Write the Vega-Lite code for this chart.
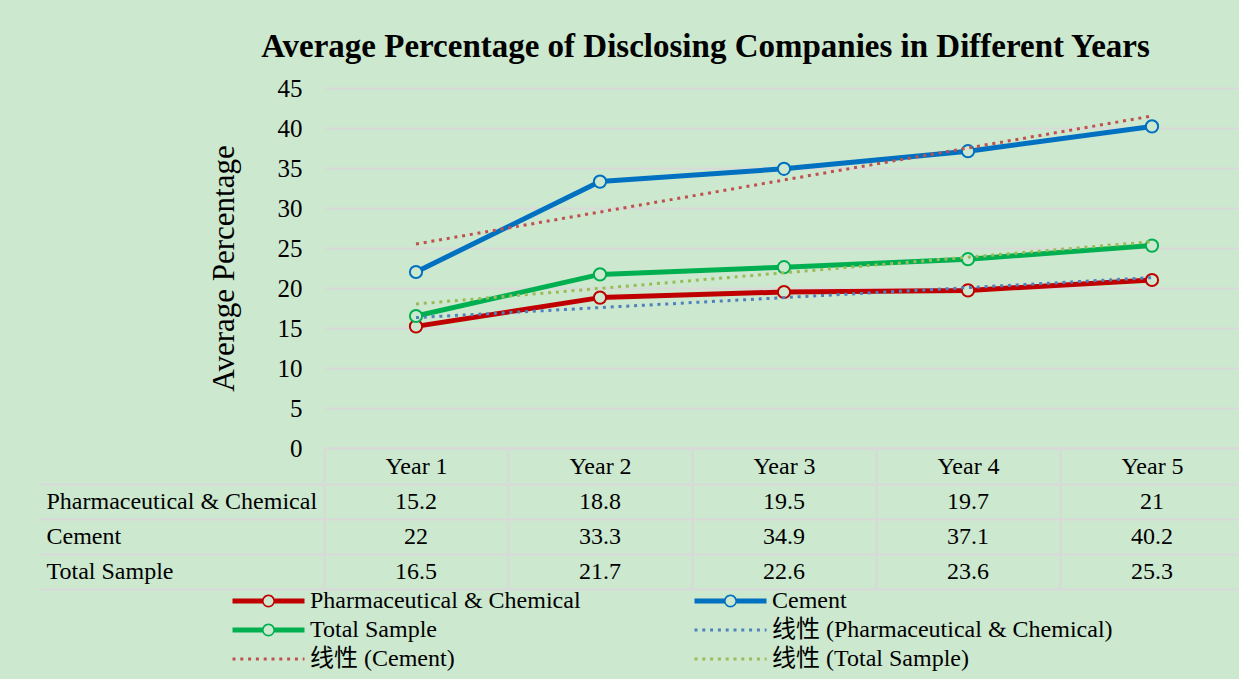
{
  "$schema": "https://vega.github.io/schema/vega-lite/v6.json",
  "background": "#CCE8CF",
  "padding": {"left": 38, "top": 31, "right": 0, "bottom": 12},
  "title": {
    "text": "Average Percentage of  Disclosing Companies in Different Years",
    "font": "Liberation Serif",
    "fontSize": 33,
    "fontWeight": "bold",
    "color": "#000000",
    "anchor": "middle",
    "dx": 64,
    "offset": 12
  },
  "datasets": {
    "main": [
      {"series": "Pharmaceutical & Chemical", "year": "Year 1", "value": 15.2},
      {"series": "Pharmaceutical & Chemical", "year": "Year 2", "value": 18.8},
      {"series": "Pharmaceutical & Chemical", "year": "Year 3", "value": 19.5},
      {"series": "Pharmaceutical & Chemical", "year": "Year 4", "value": 19.7},
      {"series": "Pharmaceutical & Chemical", "year": "Year 5", "value": 21},
      {"series": "Cement", "year": "Year 1", "value": 22},
      {"series": "Cement", "year": "Year 2", "value": 33.3},
      {"series": "Cement", "year": "Year 3", "value": 34.9},
      {"series": "Cement", "year": "Year 4", "value": 37.1},
      {"series": "Cement", "year": "Year 5", "value": 40.2},
      {"series": "Total Sample", "year": "Year 1", "value": 16.5},
      {"series": "Total Sample", "year": "Year 2", "value": 21.7},
      {"series": "Total Sample", "year": "Year 3", "value": 22.6},
      {"series": "Total Sample", "year": "Year 4", "value": 23.6},
      {"series": "Total Sample", "year": "Year 5", "value": 25.3}
    ],
    "trend": [
      {"series": "线性 (Pharmaceutical & Chemical)", "year": "Year 1", "value": 16.3},
      {"series": "线性 (Pharmaceutical & Chemical)", "year": "Year 5", "value": 21.3},
      {"series": "线性 (Cement)", "year": "Year 1", "value": 25.5},
      {"series": "线性 (Cement)", "year": "Year 5", "value": 41.5},
      {"series": "线性 (Total Sample)", "year": "Year 1", "value": 18.0},
      {"series": "线性 (Total Sample)", "year": "Year 5", "value": 25.8}
    ]
  },
  "spacing": -12,
  "vconcat": [
    {
      "width": 920,
      "height": 360,
      "encoding": {
        "x": {
          "field": "year", "type": "nominal", "bandPosition": 0.5,
          "scale": {"type": "band", "domain": ["Year 1", "Year 2", "Year 3", "Year 4", "Year 5"], "paddingInner": 0, "paddingOuter": 0},
          "axis": {
            "title": null, "orient": "bottom", "domain": true, "domainColor": "#D9D9D9", "domainWidth": 2,
            "ticks": true, "tickBand": "extent", "tickSize": 35, "tickColor": "#D9D9D9", "tickWidth": 2,
            "labelFont": "Liberation Serif", "labelFontSize": 24, "labelColor": "#000000",
            "labelPadding": -17, "labelBaseline": "middle", "labelAngle": 0, "grid": false
          }
        },
        "y": {
          "field": "value", "type": "quantitative",
          "scale": {"domain": [0, 45], "nice": false},
          "axis": {
            "title": "Average Percentage", "titleFont": "Liberation Serif", "titleFontSize": 31,
            "titleFontWeight": "normal", "titleColor": "#000000", "titlePadding": 37,
            "values": [0, 5, 10, 15, 20, 25, 30, 35, 40, 45], "tickCount": 10, "labelOverlap": false,
            "grid": true, "gridColor": "#D9D9D9", "gridWidth": 2,
            "domain": false, "ticks": false,
            "labelFont": "Liberation Serif", "labelFontSize": 25, "labelColor": "#000000", "labelPadding": 22
          }
        }
      },
      "layer": [
        {
          "data": {"name": "main"},
          "mark": {"type": "line", "strokeWidth": 5, "strokeJoin": "round"},
          "encoding": {
            "color": {
              "field": "series", "type": "nominal",
              "scale": {
                "domain": ["Pharmaceutical & Chemical", "Total Sample", "线性 (Cement)", "Cement", "线性 (Pharmaceutical & Chemical)", "线性 (Total Sample)"],
                "range": ["#C00000", "#00B050", "#C0504D", "#0070C0", "#4F81BD", "#9BBB59"]
              },
              "legend": {
                "title": null, "orient": "none", "legendX": -93, "legendY": 502,
                "columns": 2, "symbolSize": 5184, "clipHeight": 22,
                "labelFont": "Liberation Serif, Noto Sans CJK SC", "labelFontSize": 24, "labelColor": "#000000",
                "labelOffset": 4, "labelLimit": 600, "rowPadding": 5, "columnPadding": 112,
                "encode": {
                  "symbols": {
                    "update": {
                      "shape": {"signal": "indexof(datum.value, '线性') === 0 ? 'M-1,0H1' : 'M-1,-0.07H-0.17V0.07H-1Z M0.17,-0.07H1V0.07H0.17Z M0.18,0A0.18,0.18,0,1,1,-0.18,0A0.18,0.18,0,1,1,0.18,0Z M0.135,0A0.135,0.135,0,1,0,-0.135,0A0.135,0.135,0,1,0,0.135,0Z'"},
                      "fill": {"signal": "indexof(datum.value, '线性') === 0 ? 'transparent' : scale('color', datum.value)"},
                      "stroke": {"signal": "indexof(datum.value, '线性') === 0 ? scale('color', datum.value) : 'transparent'"},
                      "strokeOpacity": {"signal": "indexof(datum.value, '线性') === 0 ? 1 : 0"},
                      "strokeWidth": {"value": 3},
                      "strokeDash": {"value": [3, 4.8]},
                      "opacity": {"value": 1}
                    }
                  }
                }
              }
            }
          }
        },
        {
          "data": {"name": "main"},
          "mark": {"type": "point", "shape": "circle", "filled": false, "fill": "#CCE8CF", "fillOpacity": 1, "opacity": 1, "size": 150, "strokeWidth": 2},
          "encoding": {
            "color": {"field": "series", "type": "nominal"}
          }
        },
        {
          "data": {"name": "trend"},
          "mark": {"type": "line", "strokeWidth": 3, "strokeDash": [3, 4.8]},
          "encoding": {
            "color": {"field": "series", "type": "nominal"}
          }
        }
      ]
    },
    {
      "width": 920,
      "height": 105,
      "data": {"name": "main"},
      "mark": {"type": "text", "font": "Liberation Serif", "fontSize": 24, "color": "#000000", "baseline": "middle"},
      "encoding": {
        "x": {
          "field": "year", "type": "nominal",
          "scale": {"type": "band", "domain": ["Year 1", "Year 2", "Year 3", "Year 4", "Year 5"], "paddingInner": 0, "paddingOuter": 0},
          "axis": {"title": null, "labels": false, "ticks": false, "domain": false, "grid": true, "tickBand": "extent", "gridColor": "#D9D9D9", "gridWidth": 2}
        },
        "y": {
          "field": "series", "type": "nominal",
          "scale": {"type": "band", "domain": ["Pharmaceutical & Chemical", "Cement", "Total Sample"], "paddingInner": 0, "paddingOuter": 0},
          "axis": {
            "title": null, "grid": true, "tickBand": "extent", "gridColor": "#D9D9D9", "gridWidth": 2,
            "ticks": true, "tickSize": 285, "tickColor": "#D9D9D9", "tickWidth": 2, "domain": false,
            "labelAlign": "left", "labelPadding": -7, "labelFont": "Liberation Serif", "labelFontSize": 24,
            "labelLimit": 400, "labelColor": "#000000", "labelBaseline": "middle"
          }
        },
        "text": {"field": "value", "type": "quantitative"}
      }
    }
  ],
  "config": {
    "view": {"stroke": null},
    "font": "Liberation Serif"
  }
}
